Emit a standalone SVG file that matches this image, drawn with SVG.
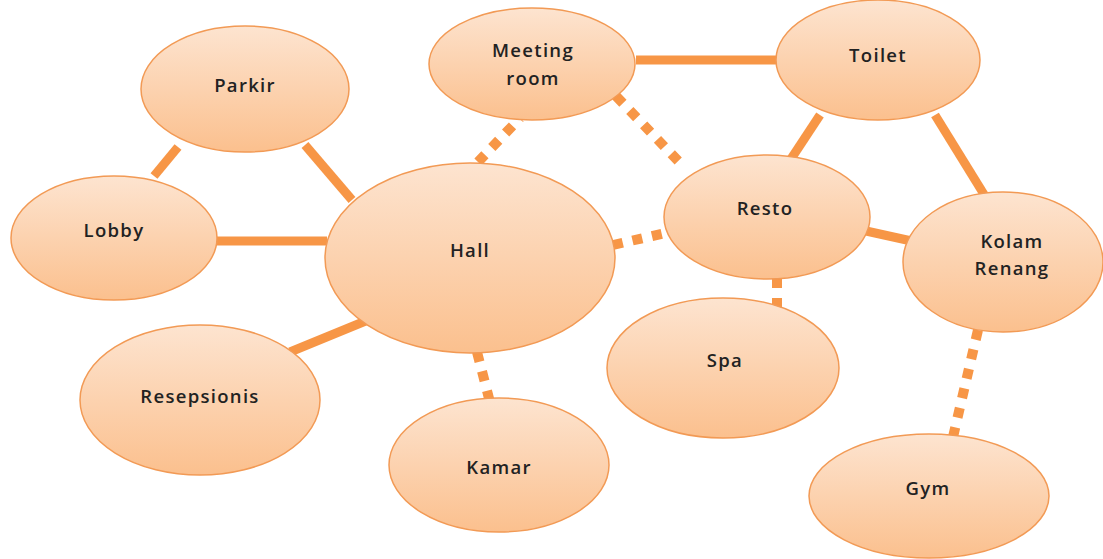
<svg xmlns="http://www.w3.org/2000/svg" width="1103" height="559" viewBox="0 0 1103 559">
<defs>
<linearGradient id="g" x1="0" y1="0" x2="0" y2="1">
<stop offset="0" stop-color="#fde4d0"/>
<stop offset="1" stop-color="#fbc08e"/>
</linearGradient>
<style>
.n{fill:url(#g);stroke:#f29a55;stroke-width:1.5}
.t{font-family:"Open Sans","DejaVu Sans",sans-serif;font-size:18.5px;font-weight:600;letter-spacing:1.3px;fill:#222;text-anchor:middle;dominant-baseline:central}
.s{stroke:#f79646;stroke-width:9;fill:none}
.d{stroke:#f79646;stroke-width:10;fill:none;stroke-dasharray:10 10}
</style>
</defs>
<rect width="1103" height="559" fill="#fff"/>
<g id="connectors">
<line class="s" x1="178" y1="147" x2="154" y2="176"/>
<line class="s" x1="305" y1="145" x2="352" y2="200"/>
<line class="s" x1="217" y1="241" x2="327" y2="241"/>
<line class="s" x1="290" y1="352" x2="368" y2="320"/>
<line class="d" x1="477" y1="352" x2="492" y2="410"/>
<line class="d" x1="478" y1="162" x2="520" y2="118"/>
<line class="s" x1="636" y1="60" x2="777" y2="60"/>
<line class="d" x1="616" y1="96" x2="682" y2="165"/>
<line class="s" x1="820" y1="115" x2="789" y2="162"/>
<line class="s" x1="935" y1="115" x2="985" y2="196"/>
<line class="d" x1="613" y1="245" x2="678" y2="230"/>
<line class="s" x1="857" y1="229" x2="916" y2="242"/>
<line class="d" x1="777" y1="278" x2="777" y2="314"/>
<line class="d" x1="978" y1="330" x2="953" y2="437"/>
</g>
<g id="parkir"><ellipse class="n" cx="245" cy="89" rx="104" ry="63"/><text class="t" x="245" y="84">Parkir</text></g>
<g id="lobby"><ellipse class="n" cx="114" cy="238" rx="103" ry="62"/><text class="t" x="114" y="229">Lobby</text></g>
<g id="hall"><ellipse class="n" cx="470" cy="258" rx="145" ry="95"/><text class="t" x="470" y="249">Hall</text></g>
<g id="meeting"><ellipse class="n" cx="532" cy="64" rx="103" ry="56"/><text class="t" x="533" y="49">Meeting</text><text class="t" x="533" y="77">room</text></g>
<g id="toilet"><ellipse class="n" cx="878" cy="60" rx="102" ry="60"/><text class="t" x="878" y="54">Toilet</text></g>
<g id="resto"><ellipse class="n" cx="767" cy="217" rx="103" ry="62"/><text class="t" x="765" y="207">Resto</text></g>
<g id="kolam"><ellipse class="n" cx="1003" cy="262" rx="100" ry="70"/><text class="t" x="1012" y="240">Kolam</text><text class="t" x="1012" y="267">Renang</text></g>
<g id="resepsionis"><ellipse class="n" cx="200" cy="400" rx="120" ry="75"/><text class="t" x="200" y="395">Resepsionis</text></g>
<g id="kamar"><ellipse class="n" cx="499" cy="465" rx="110" ry="67"/><text class="t" x="499" y="466">Kamar</text></g>
<g id="spa"><ellipse class="n" cx="723" cy="368" rx="116" ry="70"/><text class="t" x="725" y="359">Spa</text></g>
<g id="gym"><ellipse class="n" cx="929" cy="496" rx="120" ry="62"/><text class="t" x="928" y="487">Gym</text></g>
</svg>
